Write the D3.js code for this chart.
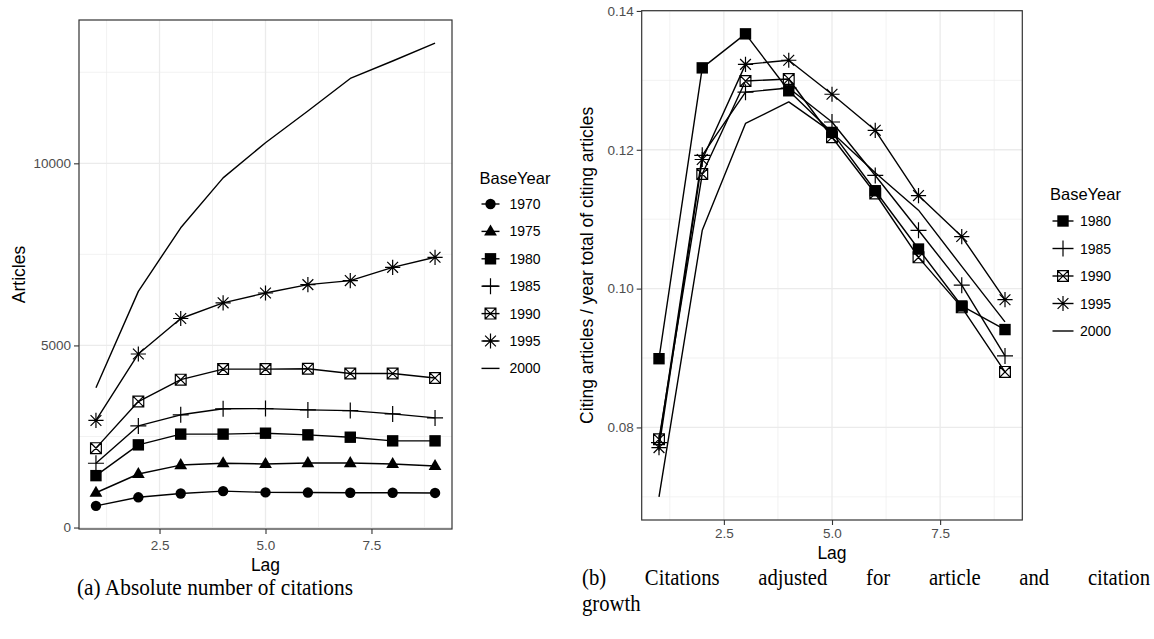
<!DOCTYPE html>
<html>
<head>
<meta charset="utf-8">
<script src="https://cdn.jsdelivr.net/npm/d3@7"></script>
<style>
  body { margin: 0; background: #fff; }
  svg { display: block; font-family: "Liberation Sans", Arial, sans-serif; }
</style>
</head>
<body>
<svg id="fig" width="1154" height="639"></svg>
<script>
// ---- data -------------------------------------------------------------
const lags = [1, 2, 3, 4, 5, 6, 7, 8, 9];

// (a) absolute number of citing articles, by base year
const abs1970 = [595, 830, 935, 1000, 965, 960, 955, 955, 950];
const abs1975 = [955, 1470, 1715, 1765, 1745, 1770, 1770, 1745, 1690];
const abs1980 = [1425, 2270, 2565, 2565, 2590, 2545, 2480, 2380, 2380];
const abs1985 = [1765, 2790, 3095, 3260, 3265, 3230, 3210, 3120, 3010];
const abs1990 = [2180, 3460, 4060, 4350, 4350, 4360, 4230, 4230, 4105];
const abs1995 = [2940, 4765, 5740, 6170, 6440, 6670, 6780, 7145, 7420];
const abs2000 = [3840, 6485, 8230, 9600, 10565, 11435, 12330, 12810, 13300];
const absYears = ["1970", "1975", "1980", "1985", "1990", "1995", "2000"];
const absValues = [abs1970, abs1975, abs1980, abs1985, abs1990, abs1995, abs2000];

// (b) citing articles relative to the yearly total of citing articles
const adj1980 = [0.0899, 0.1318, 0.1367, 0.1285, 0.1225, 0.1141, 0.1057, 0.0975, 0.0941];
const adj1985 = [0.0778, 0.1192, 0.1283, 0.1289, 0.1240, 0.1163, 0.1084, 0.1005, 0.0903];
const adj1990 = [0.0783, 0.1165, 0.1299, 0.1302, 0.1218, 0.1137, 0.1045, 0.0973, 0.0880];
const adj1995 = [0.0771, 0.1186, 0.1323, 0.1329, 0.1280, 0.1228, 0.1134, 0.1075, 0.0984];
const adj2000 = [0.0700, 0.1084, 0.1238, 0.1269, 0.1225, 0.1167, 0.1113, 0.1032, 0.0952];
const adjYears = ["1980", "1985", "1990", "1995", "2000"];
const adjValues = [adj1980, adj1985, adj1990, adj1995, adj2000];

// tick labels
const xTicks = [2.5, 5.0, 7.5];
const xMinor = [1.25, 3.75, 6.25, 8.75];
const absTicks = [0, 5000, 10000];
const absMinor = [2500, 7500, 12500];
const adjTicks = [0.08, 0.10, 0.12, 0.14];
const adjMinor = [0.07, 0.09, 0.11, 0.13];

const shapeByYear = {
  "1970": "circle", "1975": "triangle", "1980": "square",
  "1985": "plus", "1990": "boxcross", "1995": "asterisk", "2000": "none"
};

// ---- helpers ----------------------------------------------------------
const svg = d3.select("#fig");
const INK = "#000";

function markerPath(shape) {
  switch (shape) {
    case "circle": {
      const p = d3.path(); p.arc(0, 0, 5.2, 0, 2 * Math.PI); p.closePath(); return p.toString();
    }
    case "triangle": return "M0,-7L6.4,4.1L-6.4,4.1Z";
    case "square": return "M-5.7,-5.7h11.4v11.4h-11.4Z";
    case "plus": return "M-8,0H8M0,-8V8";
    case "asterisk": return "M-7.6,0H7.6M0,-7.6V7.6M-5.4,-5.4L5.4,5.4M-5.4,5.4L5.4,-5.4";
    case "boxcross": return "M-5.4,-5.4h10.8v10.8h-10.8ZM-5.4,-5.4L5.4,5.4M-5.4,5.4L5.4,-5.4";
    default: return null;
  }
}
const filledShapes = new Set(["circle", "triangle", "square"]);

function drawMarker(g, shape, x, y) {
  const d = markerPath(shape);
  if (!d) return;
  const m = g.append("path").attr("d", d).attr("transform", `translate(${x},${y})`);
  if (filledShapes.has(shape)) m.attr("fill", INK).attr("stroke", "none");
  else m.attr("fill", "none").attr("stroke", INK).attr("stroke-width", 1.2);
}

function expanded(lo, hi) {
  const pad = (hi - lo) * 0.05;
  return [lo - pad, hi + pad];
}

function drawPanel(cfg) {
  const { box, years, values, yTicks, yMinor, yFormat, yTitle } = cfg;
  const allVals = values.flat();
  const x = d3.scaleLinear().domain(expanded(d3.min(lags), d3.max(lags))).range([box.x0, box.x1]);
  const y = d3.scaleLinear().domain(expanded(d3.min(allVals), d3.max(allVals))).range([box.y1, box.y0]);

  const g = svg.append("g");

  // background grid
  const grid = g.append("g");
  grid.selectAll(".vminor").data(xMinor).join("line")
    .attr("x1", d => x(d)).attr("x2", d => x(d)).attr("y1", box.y0).attr("y2", box.y1)
    .attr("stroke", "#ededed").attr("stroke-width", 0.7);
  grid.selectAll(".hminor").data(yMinor).join("line")
    .attr("x1", box.x0).attr("x2", box.x1).attr("y1", d => y(d)).attr("y2", d => y(d))
    .attr("stroke", "#ededed").attr("stroke-width", 0.7);
  grid.selectAll(".vmajor").data(xTicks).join("line")
    .attr("x1", d => x(d)).attr("x2", d => x(d)).attr("y1", box.y0).attr("y2", box.y1)
    .attr("stroke", "#ebebeb").attr("stroke-width", 1.3);
  grid.selectAll(".hmajor").data(yTicks).join("line")
    .attr("x1", box.x0).attr("x2", box.x1).attr("y1", d => y(d)).attr("y2", d => y(d))
    .attr("stroke", "#ebebeb").attr("stroke-width", 1.3);

  // series lines
  const line = d3.line().x((d, i) => x(lags[i])).y(d => y(d));
  values.forEach(v => {
    g.append("path").attr("d", line(v)).attr("fill", "none")
      .attr("stroke", INK).attr("stroke-width", 1.4).attr("stroke-linejoin", "round");
  });
  // series points
  values.forEach((v, k) => {
    const shape = shapeByYear[years[k]];
    v.forEach((d, i) => drawMarker(g, shape, x(lags[i]), y(d)));
  });

  // panel border
  g.append("rect").attr("x", box.x0).attr("y", box.y0)
    .attr("width", box.x1 - box.x0).attr("height", box.y1 - box.y0)
    .attr("fill", "none").attr("stroke", "#333").attr("stroke-width", 1.2);

  // axes
  const ax = g.append("g").attr("transform", `translate(0,${box.y1})`)
    .call(d3.axisBottom(x).tickValues(xTicks).tickFormat(d3.format(".1f"))
      .tickSize(5).tickPadding(cfg.xPad));
  const ay = g.append("g").attr("transform", `translate(${box.x0},0)`)
    .call(d3.axisLeft(y).tickValues(yTicks).tickFormat(yFormat)
      .tickSize(5).tickPadding(3));
  [ax, ay].forEach(a => {
    a.select(".domain").remove();
    a.selectAll(".tick line").attr("stroke", "#333").attr("stroke-width", 1.1);
    a.selectAll(".tick text").attr("fill", "#4d4d4d").style("font-size", "13.5px")
      .style("font-family", "'Liberation Sans', Arial, sans-serif");
  });

  // axis titles
  g.append("text").attr("x", (box.x0 + box.x1) / 2).attr("y", cfg.xTitleY)
    .attr("text-anchor", "middle").attr("dominant-baseline", "central")
    .style("font-size", "17.5px").attr("fill", INK).text("Lag");
  g.append("text")
    .attr("transform", `translate(${cfg.yTitleX},${(box.y0 + box.y1) / 2}) rotate(-90)`)
    .attr("text-anchor", "middle").attr("dominant-baseline", "central")
    .style("font-size", "17.5px").attr("fill", INK).text(yTitle);

  // legend
  const L = cfg.legend;
  const lg = g.append("g");
  lg.append("text").attr("x", L.x).attr("y", L.titleY).attr("dominant-baseline", "central")
    .style("font-size", "16.5px").attr("fill", INK).text("BaseYear");
  years.forEach((yr, k) => {
    const cy = L.firstY + k * L.step;
    lg.append("line").attr("x1", L.keyX0).attr("x2", L.keyX1).attr("y1", cy).attr("y2", cy)
      .attr("stroke", INK).attr("stroke-width", 1.4);
    drawMarker(lg, shapeByYear[yr], (L.keyX0 + L.keyX1) / 2, cy);
    lg.append("text").attr("x", L.labelX).attr("y", cy).attr("dominant-baseline", "central")
      .style("font-size", "14px").attr("fill", INK).text(yr);
  });
}

// ---- panels ------------------------------------------------------------
drawPanel({
  box: { x0: 79, x1: 452, y0: 20, y1: 529 },
  years: absYears, values: absValues,
  yTicks: absTicks, yMinor: absMinor, yFormat: d3.format("d"),
  yTitle: "Articles", yTitleX: 18.5, xTitleY: 564.5, xPad: 6,
  legend: { x: 479.5, titleY: 178, firstY: 204, step: 27.4, keyX0: 481.5, keyX1: 499.5, labelX: 509.5 }
});

drawPanel({
  box: { x0: 641.7, x1: 1022.3, y0: 10.7, y1: 520 },
  years: adjYears, values: adjValues,
  yTicks: adjTicks, yMinor: adjMinor, yFormat: d3.format(".2f"),
  yTitle: "Citing articles / year total of citing articles", yTitleX: 587, xTitleY: 553, xPad: 3.5,
  legend: { x: 1050, titleY: 194, firstY: 221, step: 27.5, keyX0: 1052.5, keyX1: 1073.5, labelX: 1080 }
});

// ---- sub-figure captions ----------------------------------------------
const capFont = "'Liberation Serif', 'DejaVu Serif', serif";
const capSize = "22.5px";
const squeeze = 0.92;   // narrower serif glyphs

function captionWord(txt, x, yBase) {
  const t = svg.append("text").attr("x", x).attr("y", yBase)
    .style("font-family", capFont).style("font-size", capSize).attr("fill", INK).text(txt);
  const w = t.node().getComputedTextLength() * squeeze;
  t.attr("textLength", w).attr("lengthAdjust", "spacingAndGlyphs");
  return w;
}

// single line with natural spacing, stretched to a given width
svg.append("text").attr("x", 77).attr("y", 594.5)
  .style("font-family", capFont).style("font-size", capSize).attr("fill", INK)
  .attr("textLength", 276).attr("lengthAdjust", "spacingAndGlyphs")
  .text("(a) Absolute number of citations");

// justified first line: spread the extra room over the word gaps
function justifiedLine(words, x0, x1, yBase) {
  const probe = svg.append("g").attr("opacity", 0);
  const widths = words.map(w => {
    const t = probe.append("text").style("font-family", capFont).style("font-size", capSize).text(w);
    return t.node().getComputedTextLength() * squeeze;
  });
  probe.remove();
  const gap = (x1 - x0 - d3.sum(widths)) / (words.length - 1);
  let cx = x0;
  words.forEach((w, i) => { captionWord(w, cx, yBase); cx += widths[i] + gap; });
}
justifiedLine(["(b)", "Citations", "adjusted", "for", "article", "and", "citation"], 582, 1150, 584.5);
captionWord("growth", 582, 611);
</script>
</body>
</html>
